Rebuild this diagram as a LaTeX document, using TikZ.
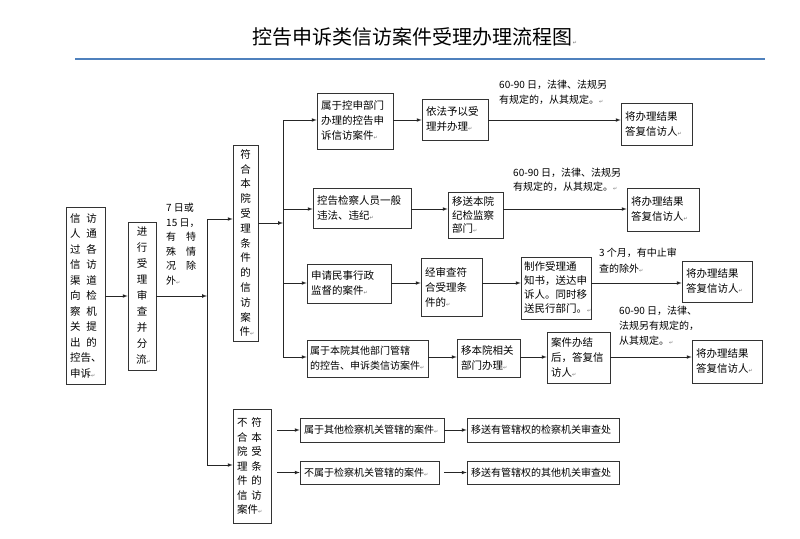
\documentclass[tikz,border=0pt]{standalone}
\usepackage{fontspec}
\setmainfont{Noto Sans CJK SC}
\newfontfamily\symfont{DejaVu Sans}
\usetikzlibrary{calc,positioning}
\definecolor{titlerule}{RGB}{79,129,189}
\newcommand{\pmark}{{\symfont\fontsize{5}{5}\selectfont\textcolor{black!55}{↵}}}
\newcommand{\gp}{\hspace{6pt}}
\tikzset{
  box/.style={draw=black!80, line width=0.7pt, inner xsep=4pt, inner ysep=2pt, align=left, font=\fontsize{10.5}{15}\selectfont},
  vbox/.style={box, align=center, text width=12pt, inner xsep=0pt},
  note/.style={anchor=north west, align=left, inner sep=0pt, font=\fontsize{10}{15}\selectfont},
  line/.style={line width=0.7pt, black!85},
  arr/.style={line, -latex},
}

\begin{document}
\begin{tikzpicture}[x=1pt,y=-1pt]
    \useasboundingbox (0,0) rectangle (800,538);

    \node[font=\fontsize{20}{20}\selectfont] (title) at (415,37) {控告申诉类信访案件受理办理流程图\pmark};
    \draw[line width=2.5pt, titlerule] (75,59) -- (765,59);

    \coordinate (sTop) at (207,219);
    \coordinate (sBot) at (207,465);
    \coordinate (tIn) at (283,223);
    \coordinate (t1) at (283,120);
    \coordinate (t2) at (283,209);
    \coordinate (t3) at (283,283);
    \coordinate (t4) at (283,357);

    % left column
    \node[box, text width=31pt, minimum height=177pt, font=\fontsize{10.5}{15.5}\selectfont] (in) at (85.5,296)
        {信\gp 访\\人\gp 通\\过\gp 各\\信\gp 访\\渠\gp 道\\向\gp 检\\察\gp 机\\关\gp 提\\出\gp 的\\控告、\\申诉\pmark};
    \node[vbox, minimum width=28pt, minimum height=148pt, font=\fontsize{10.5}{16}\selectfont] (chk) at (142,296)
        {进\\行\\受\\理\\审\\查\\并\\分\\流\pmark};
    \node[note, font=\fontsize{10}{14.5}\selectfont] (days) at (166,203)
        {7 日或\\15 日，\\有\quad 特\\殊\quad 情\\况\quad 除\\外\pmark};
    \node[vbox, minimum width=25pt, minimum height=196pt, font=\fontsize{10.5}{14.8}\selectfont] (ok) at (245.5,243)
        {符\\合\\本\\院\\受\\理\\条\\件\\的\\信\\访\\案\\件\pmark};
    \node[box, text width=30pt, minimum height=114pt, font=\fontsize{10.5}{14.5}\selectfont] (no) at (252,466)
        {不\hspace{4pt}符\\合\hspace{4pt}本\\院\hspace{4pt}受\\理\hspace{4pt}条\\件\hspace{4pt}的\\信\hspace{4pt}访\\案件\pmark};

    % row 1
    \node[box, text width=68pt, minimum height=56pt] (r1a) at (355,121) {属于控申部门\\办理的控告申\\诉信访案件\pmark};
    \node[box, text width=58pt, minimum height=41pt] (r1b) at (455,119.5) {依法予以受\\理并办理\pmark};
    \node[box, text width=63pt, minimum height=42pt] (r1c) at (656.5,124) {将办理结果\\答复信访人\pmark};
    \node[note] (n1) at (499,80) {60-90 日，法律、法规另\\有规定的，从其规定。\pmark};

    % row 2
    \node[box, text width=90pt, minimum height=40pt] (r2a) at (362,208) {控告检察人员一般\\违法、违纪\pmark};
    \node[box, text width=47pt, minimum height=46pt, font=\fontsize{10.5}{13.5}\selectfont] (r2b) at (475.5,215) {移送本院\\纪检监察\\部门\pmark};
    \node[box, text width=64pt, minimum height=43pt] (r2c) at (663,209.5) {将办理结果\\答复信访人\pmark};
    \node[note, font=\fontsize{10}{14}\selectfont] (n2) at (513,168) {60-90 日，法律、法规另\\有规定的，从其规定。\pmark};

    % row 3
    \node[box, text width=76pt, minimum height=39pt] (r3a) at (349,283.5) {申请民事行政\\监督的案件\pmark};
    \node[box, text width=53pt, minimum height=58pt] (r3b) at (451.5,287) {经审查符\\合受理条\\件的\pmark};
    \node[box, text width=64pt, inner xsep=3pt, minimum height=62pt, font=\fontsize{10.5}{14}\selectfont] (r3c) at (556,288)
        {制作受理通\\知书，送达申\\诉人。同时移\\送民行部门。\pmark};
    \node[box, text width=62pt, minimum height=41pt] (r3d) at (717,281.5) {将办理结果\\答复信访人\pmark};
    \node[note, font=\fontsize{10}{16}\selectfont] (n3) at (599,248) {3 个月，有中止审\\查的除外\pmark};

    % row 4
    \node[box, text width=115pt, inner xsep=3pt, minimum height=37pt, font=\fontsize{10}{15}\selectfont] (r4a) at (367.5,358.5)
        {属于本院其他部门管辖\\的控告、申诉类信访案件\pmark};
    \node[box, text width=55pt, minimum height=38pt] (r4b) at (488.5,358) {移本院相关\\部门办理\pmark};
    \node[box, text width=55pt, minimum height=51pt] (r4c) at (578.5,357.5) {案件办结\\后，答复信\\访人\pmark};
    \node[box, text width=62pt, minimum height=43pt] (r4d) at (727,361.5) {将办理结果\\答复信访人\pmark};
    \node[note, font=\fontsize{10}{15}\selectfont] (n4) at (619,306) {60-90 日，法律、\\法规另有规定的，\\从其规定。\pmark};

    % bottom rows
    \node[box, text width=136pt, minimum height=24pt, font=\fontsize{10}{15}\selectfont] (b1a) at (372,430) {属于其他检察机关管辖的案件\pmark};
    \node[box, text width=144pt, minimum height=24pt, font=\fontsize{10}{15}\selectfont] (b1b) at (543,430) {移送有管辖权的检察机关审查处};
    \node[box, text width=131pt, minimum height=23pt, font=\fontsize{10}{15}\selectfont] (b2a) at (369.5,472.5) {不属于检察机关管辖的案件\pmark};
    \node[box, text width=144pt, minimum height=23pt, font=\fontsize{10}{15}\selectfont] (b2b) at (543,472.5) {移送有管辖权的其他机关审查处};

    % connectors
    \draw[arr] (in) -- (chk);
    \draw[line] (sTop) -- (sBot);
    \draw[arr] (chk) -- (chk -| sTop);
    \draw[arr] (sTop) -- (sTop -| ok.west);
    \draw[arr] (sBot) -- (sBot -| no.west);

    \draw[line] (t1) -- (t4);
    \draw[arr] (ok.east |- tIn) -- (tIn);
    \draw[arr] (t1) -- (t1 -| r1a.west);
    \draw[arr] (t2) -- (t2 -| r2a.west);
    \draw[arr] (t3) -- (t3 -| r3a.west);
    \draw[arr] (t4) -- (t4 -| r4a.west);

    \draw[arr] (r1a.east |- t1) -- (r1b.west |- t1);
    \draw[arr] (r1b.east |- t1) -- (r1c.west |- t1);
    \draw[arr] (r2a.east |- t2) -- (r2b.west |- t2);
    \draw[arr] (r2b.east |- t2) -- (r2c.west |- t2);
    \draw[arr] (r3a.east |- t3) -- (r3b.west |- t3);
    \draw[arr] (r3b.east |- t3) -- (r3c.west |- t3);
    \draw[arr] (r3c.east |- t3) -- (r3d.west |- t3);
    \draw[arr] (r4a.east |- t4) -- (r4b.west |- t4);
    \draw[arr] (r4b.east |- t4) -- (r4c.west |- t4);
    \draw[arr] (r4c.east |- t4) -- (r4d.west |- t4);

    \draw[arr, shorten <=6pt] (no.east |- b1a) -- (b1a);
    \draw[arr] (b1a) -- (b1b);
    \draw[arr, shorten <=6pt] (no.east |- b2a) -- (b2a);
    \draw[arr, shorten <=5pt] (b2a) -- (b2b);
\end{tikzpicture}
\end{document}
